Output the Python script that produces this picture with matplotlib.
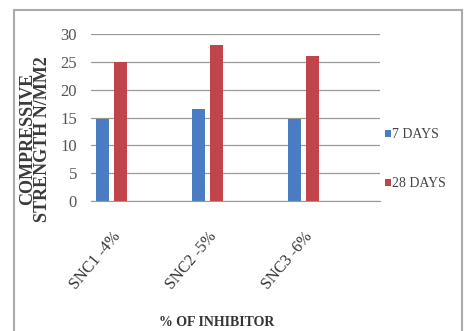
import numpy as np
import matplotlib.pyplot as plt
from matplotlib.patches import Rectangle
from matplotlib.transforms import ScaledTranslation

categories = ['SNC1 -4%', 'SNC2 -5%', 'SNC3 -6%']
days_7 = [14.8, 16.5, 14.8]
days_28 = [25.0, 28.0, 26.0]
yticks = [0, 5, 10, 15, 20, 25, 30]

plt.rcParams['font.family'] = ['Liberation Serif', 'DejaVu Serif']

fig = plt.figure(figsize=(4.68, 3.31), dpi=100)
ax = fig.add_axes([0.1944, 0.3927, 0.6175, 0.5046])

x = np.arange(len(categories))
w = 0.135
ax.bar(x - 0.096, days_7, w, color='#4a7cc4', label='7 DAYS')
ax.bar(x + 0.096, days_28, w, color='#c0444a', label='28 DAYS')

ax.set_xlim(-0.214, 2.796)
ax.set_ylim(0, 30)
ax.set_yticks(yticks)
ax.set_yticklabels([str(t) for t in yticks], fontsize=12, color='#555555')
ax.set_xticks(x)
ax.set_xticklabels(categories, rotation=50, ha='right', rotation_mode='anchor',
                   fontsize=11.5, color='#333333')
shift = ScaledTranslation(4 / 72, 0, fig.dpi_scale_trans)
for lab in ax.get_xticklabels():
    lab.set_transform(lab.get_transform() + shift)
ax.tick_params(axis='y', length=0, pad=10)
ax.tick_params(axis='x', length=0, pad=20)
ax.grid(axis='y', color='#999999', linewidth=0.9)
ax.set_axisbelow(True)
for s in ['top', 'right', 'left']:
    ax.spines[s].set_visible(False)
ax.spines['bottom'].set_color('#999999')

fig.text(0.075, 0.58, 'COMPRESSIVE\nSTRENGTH N/MM2', rotation=90, ha='center', va='center',
         fontsize=13, fontweight='bold', color='#3a3a3a', linespacing=0.85)
fig.text(0.463, 0.026, '% OF INHIBITOR', ha='center', va='center',
         fontsize=10, fontweight='bold', color='#333333')

fig.legend(loc='upper left', bbox_to_anchor=(0.795, 0.65), frameon=False,
           fontsize=10, handlelength=0.45, handleheight=0.45, handletextpad=0.1,
           labelspacing=2.6, labelcolor='#444444')

fig.patches.append(Rectangle((0.03, -0.01), 0.958, 0.98, transform=fig.transFigure,
                             fill=False, edgecolor='#aaaaaa', linewidth=1.5))

fig.savefig('out.png', dpi=100)
